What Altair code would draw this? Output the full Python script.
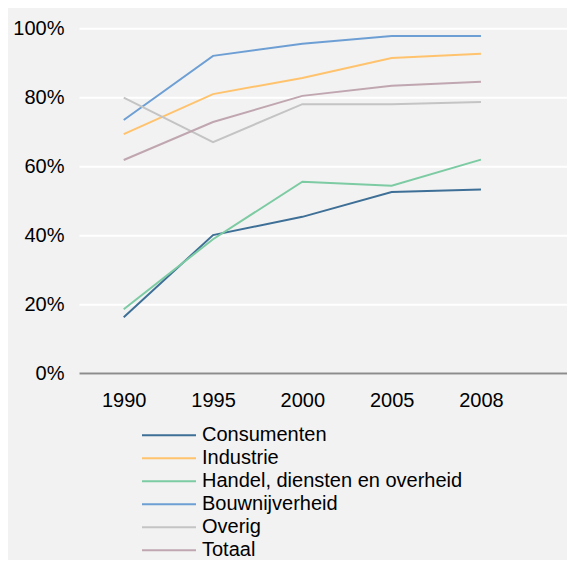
import altair as alt
import pandas as pd

years = ["1990", "1995", "2000", "2005", "2008"]
series = ["Consumenten", "Industrie", "Handel, diensten en overheid",
          "Bouwnijverheid", "Overig", "Totaal"]
consumenten = [0.162, 0.400, 0.453, 0.525, 0.532]
industrie = [0.693, 0.809, 0.856, 0.914, 0.926]
handel = [0.185, 0.388, 0.555, 0.543, 0.619]
bouw = [0.734, 0.920, 0.955, 0.978, 0.978]
overig = [0.799, 0.670, 0.780, 0.780, 0.786]
totaal = [0.618, 0.728, 0.804, 0.833, 0.845]
colors = ["#3e6f96", "#ffc36e", "#7ccba3", "#6e9fd4", "#c4c4c4", "#c0a6b0"]

values = [consumenten, industrie, handel, bouw, overig, totaal]
rows = []
for s, vals in zip(series, values):
    for y, v in zip(years, vals):
        rows.append({"Jaar": y, "Sector": s, "Waarde": v})
df = pd.DataFrame(rows)

FONT = "Liberation Sans"

chart = alt.Chart(df).mark_line(strokeWidth=2).encode(
    x=alt.X("Jaar:O", sort=years,
            scale=alt.Scale(type="point", padding=0.732, align=0.342),
            axis=alt.Axis(title=None, labelAngle=0, ticks=False, grid=False,
                          domainColor="#8c8c8c", domainWidth=2,
                          labelFontSize=20, labelFont=FONT, labelColor="#000",
                          labelPadding=17, zindex=1)),
    y=alt.Y("Waarde:Q", scale=alt.Scale(domain=[0, 1], nice=False),
            axis=alt.Axis(title=None, format=".0%", values=[0, 0.2, 0.4, 0.6, 0.8, 1.0],
                          domain=False, ticks=False, grid=True, gridColor="#ffffff",
                          gridWidth=2, labelFontSize=20, labelFont=FONT,
                          labelColor="#000", labelPadding=15)),
    color=alt.Color("Sector:N", sort=series,
                    scale=alt.Scale(domain=series, range=colors),
                    legend=alt.Legend(title=None, orient="none", legendX=80, legendY=397,
                                      symbolType="M-3,0H3", symbolSize=324,
                                      symbolStrokeWidth=2, labelFontSize=20,
                                      labelFont=FONT, labelColor="#000",
                                      labelOffset=23, rowPadding=3, padding=0,
                                      labelLimit=600)),
).properties(
    width=488, height=344.7,
    autosize=alt.AutoSizeParams(type="none"),
    padding={"left": 71, "top": 20.3, "right": 0, "bottom": 187},
    background="#f2f2f2",
).configure_view(stroke=None)

chart.save("out.html", embed_options={"renderer": "svg", "actions": False})
